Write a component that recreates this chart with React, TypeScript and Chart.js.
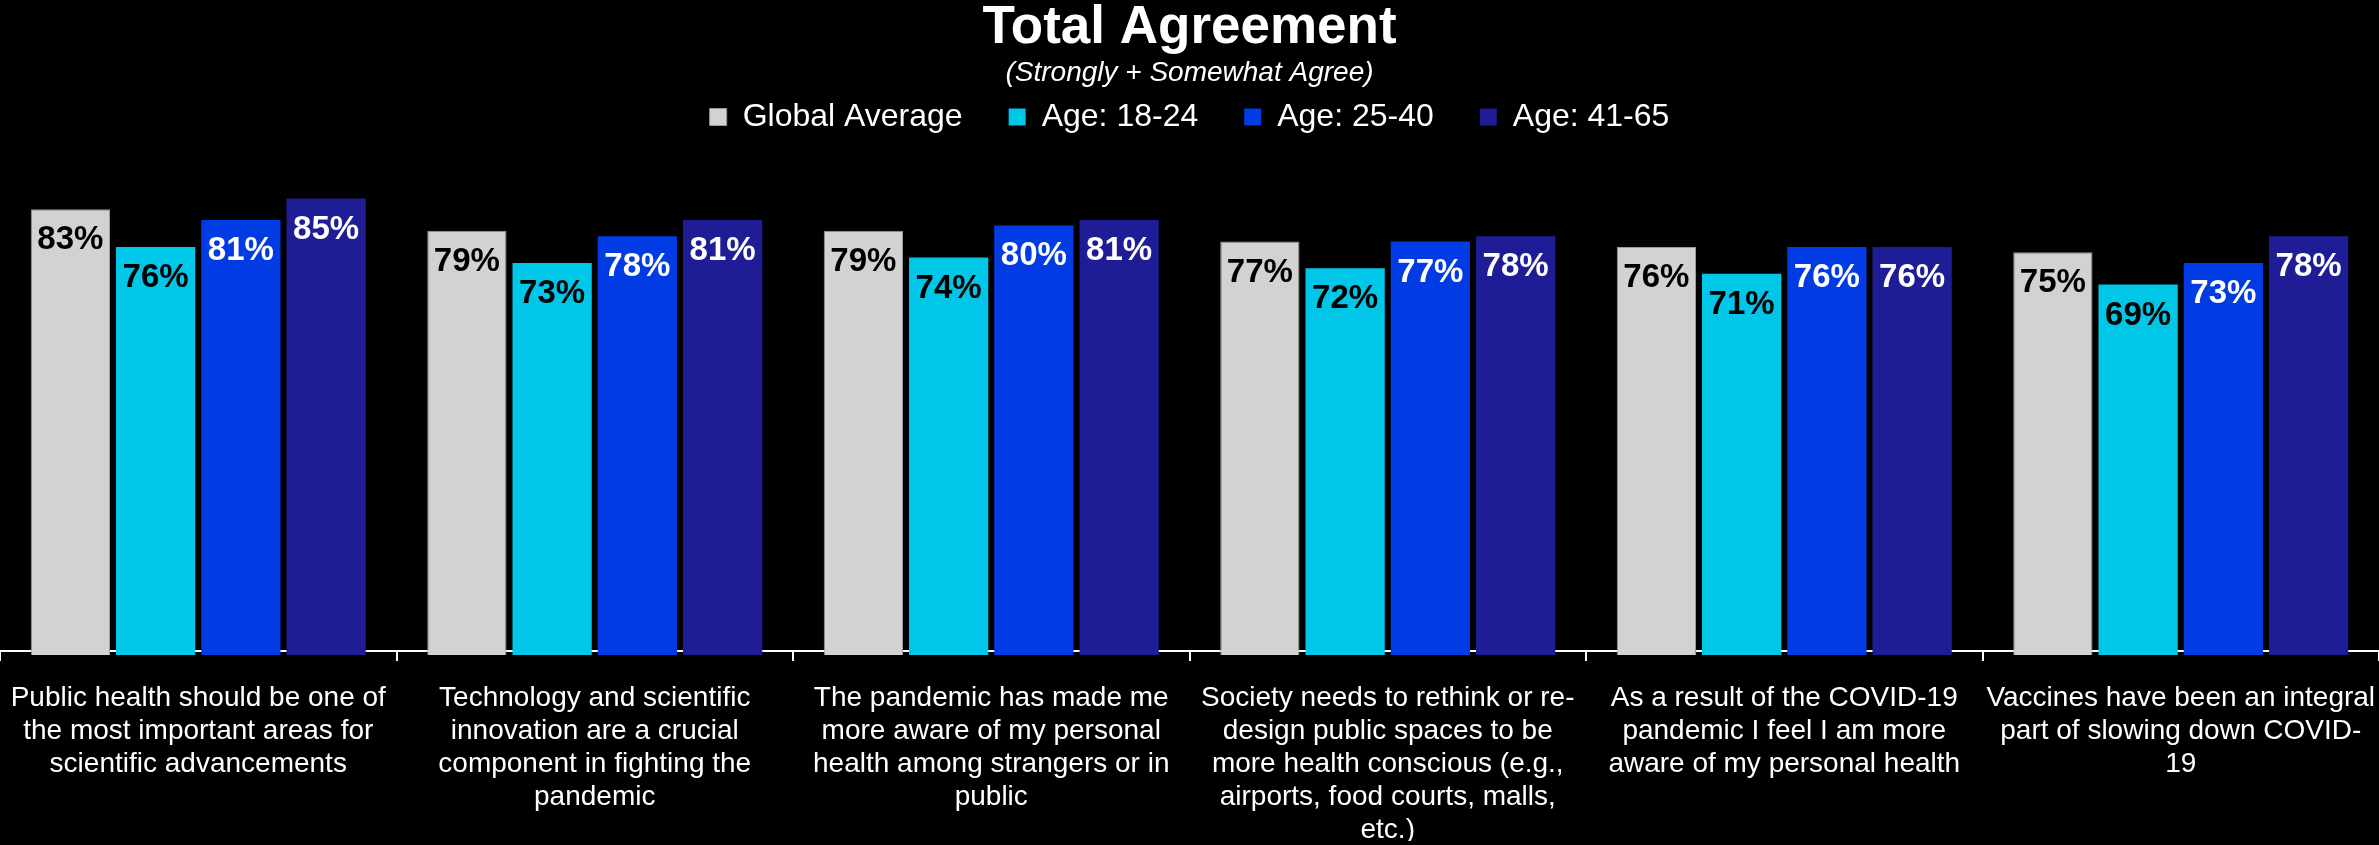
import React, { useEffect, useRef } from "react";
import { Chart, registerables } from "chart.js";

Chart.register(...registerables);

const categories: string[][] = [
  ["Public health should be one of", "the most important areas for", "scientific advancements"],
  ["Technology and scientific", "innovation are a crucial", "component in fighting the", "pandemic"],
  ["The pandemic has made me", "more aware of my personal", "health among strangers or in", "public"],
  ["Society needs to rethink or re-", "design public spaces to be", "more health conscious (e.g.,", "airports, food courts, malls,", "etc.)"],
  ["As a result of the COVID-19", "pandemic I feel I am more", "aware of my personal health"],
  ["Vaccines have been an integral", "part of slowing down COVID-", "19"],
];

const seriesNames: string[] = ["Global Average", "Age: 18-24", "Age: 25-40", "Age: 41-65"];
const globalAverage: number[] = [83, 79, 79, 77, 76, 75];
const age18to24: number[] = [76, 73, 74, 72, 71, 69];
const age25to40: number[] = [81, 78, 80, 77, 76, 73];
const age41to65: number[] = [85, 81, 81, 78, 76, 78];

const barColors: string[] = ["#D3D2D0", "#00C7E7", "#003BE4", "#1F1D96"];
const borderColors: string[] = ["#9A9A9A", "#00C7E7", "#003BE4", "#1F1D96"];
const labelColors: string[] = ["#000000", "#000000", "#FFFFFF", "#FFFFFF"];

const FONT = "'Liberation Sans', Arial, Helvetica, sans-serif";

const valueLabelPlugin = {
  id: "valueLabels",
  afterDatasetsDraw(chart: any) {
    const ctx = chart.ctx;
    ctx.save();
    ctx.font = `bold 33px ${FONT}`;
    ctx.textAlign = "center";
    ctx.textBaseline = "middle";
    chart.data.datasets.forEach((ds: any, di: number) => {
      const meta = chart.getDatasetMeta(di);
      meta.data.forEach((el: any, i: number) => {
        ctx.fillStyle = labelColors[di];
        ctx.fillText(`${ds.data[i]}%`, el.x, el.y + 31);
      });
    });
    ctx.restore();
  },
};

export default function App() {
  const canvasRef = useRef<HTMLCanvasElement | null>(null);

  useEffect(() => {
    if (!canvasRef.current) return;
    const allSeries = [globalAverage, age18to24, age25to40, age41to65];
    const chart = new Chart(canvasRef.current, {
      type: "bar",
      data: {
        labels: categories,
        datasets: allSeries.map((d, i) => ({
          label: seriesNames[i],
          data: d,
          backgroundColor: barColors[i],
          borderColor: borderColors[i],
          borderWidth: i === 0 ? 1 : 0,
          categoryPercentage: 0.86,
          barPercentage: 0.93,
        })),
      },
      options: {
        animation: false,
        responsive: false,
        maintainAspectRatio: false,
        layout: { padding: { left: 0, right: 0, top: 2, bottom: 0 } },
        plugins: {
          title: {
            display: true,
            text: "Total Agreement",
            color: "#FFFFFF",
            font: { family: FONT, size: 53, weight: "bold", lineHeight: 1.0 },
            padding: { top: 0, bottom: 4 },
          },
          subtitle: {
            display: true,
            text: "(Strongly + Somewhat Agree)",
            color: "#FFFFFF",
            font: { family: FONT, size: 28, style: "italic", lineHeight: 1.0 },
            padding: { top: 0, bottom: -32 },
          },
          legend: {
            display: true,
            position: "top",
            labels: {
              color: "#FFFFFF",
              font: { family: FONT, size: 32 },
              boxWidth: 17,
              boxHeight: 17,
              padding: 46,
            },
          },
          tooltip: { enabled: false },
        },
        scales: {
          x: {
            afterFit: (scale: any) => {
              scale.height = 190;
              scale.paddingLeft = 0;
              scale.paddingRight = 0;
            },
            grid: {
              display: true,
              offset: true,
              drawOnChartArea: false,
              drawTicks: true,
              tickLength: 10,
              color: "#FFFFFF",
              lineWidth: 2,
            },
            border: { display: true, color: "#FFFFFF", width: 2 },
            ticks: {
              color: "#FFFFFF",
              font: { family: FONT, size: 28, lineHeight: 1.18 },
              maxRotation: 0,
              autoSkip: false,
              padding: 21,
            },
          },
          y: {
            display: false,
            min: 0,
            max: 94.6,
          },
        },
      },
      plugins: [valueLabelPlugin],
    });
    return () => chart.destroy();
  }, []);

  return (
    <div style={{ position: "absolute", left: 0, top: 0, width: 2379, height: 845, background: "#000000" }}>
      <canvas ref={canvasRef} width={2379} height={845} style={{ display: "block", width: 2379, height: 845 }} />
    </div>
  );
}
